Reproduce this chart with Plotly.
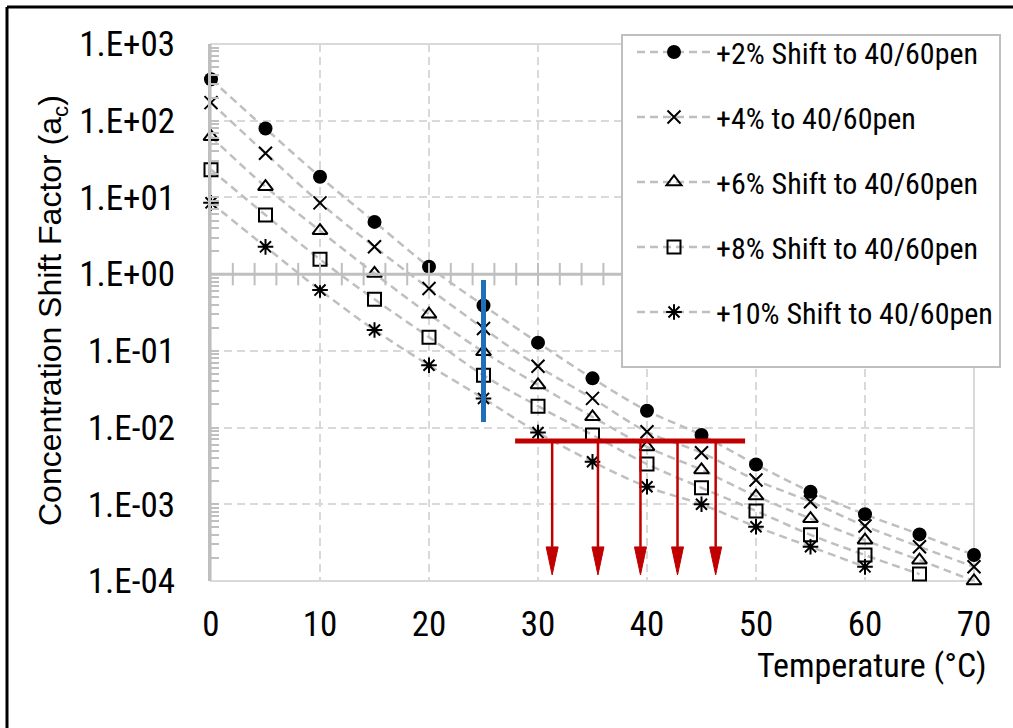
import numpy as np
import plotly.graph_objects as go

# ---------------- data ----------------
temps = [0, 5, 10, 15, 20, 25, 30, 35, 40, 45, 50, 55, 60, 65, 70]
series_names = ["+2% Shift to 40/60pen", "+4% to 40/60pen", "+6% Shift to 40/60pen",
                "+8% Shift to 40/60pen", "+10% Shift to 40/60pen"]
shift_2 = [347, 79, 18.6, 4.8, 1.25, 0.39, 0.128, 0.0438, 0.0166, 0.008, 0.0033, 0.00146, 0.00074, 0.000405, 0.000218]
shift_4 = [172, 37.6, 8.5, 2.27, 0.65, 0.196, 0.063, 0.024, 0.0088, 0.0047, 0.00207, 0.00108, 0.00052, 0.00028, 0.000153]
shift_6 = [62, 13.8, 3.68, 1.02, 0.30, 0.097, 0.036, 0.0138, 0.0056, 0.0028, 0.00128, 0.00065, 0.00034, 0.000187, 0.0001]
shift_8 = [23, 5.9, 1.56, 0.47, 0.151, 0.048, 0.019, 0.008, 0.00334, 0.00164, 0.00082, 0.0004, 0.000218, 0.000123, None]
shift_10 = [8.5, 2.27, 0.62, 0.187, 0.065, 0.024, 0.0086, 0.00358, 0.00169, 0.001, 0.00051, 0.00028, 0.000153, None, None]

y_tickvals = [1e-4, 1e-3, 1e-2, 1e-1, 1e0, 1e1, 1e2, 1e3]
y_ticktext = ["1.E-04", "1.E-03", "1.E-02", "1.E-01", "1.E+00", "1.E+01", "1.E+02", "1.E+03"]
x_tickvals = [0, 10, 20, 30, 40, 50, 60, 70]

# annotation lines (blue reference line, red threshold + arrows)
blue_x = [25, 25]
blue_y = [0.84, 0.0118]
red_x = [27.9, 49.0]
red_level = 0.00667
arrow_x = [31.3, 35.5, 39.4, 42.8, 46.3]
arrow_tip = 0.000120

# ---------------- layout helpers ----------------
W, H = 1013, 728
L, R, T, B = 211, 974, 44, 581  # plot area in pixels
px_per_decade = (B - T) / 7.0
px_per_unit = (R - L) / 70.0


def px_x(p):
    return (p - L) / (R - L)


def px_y(p):
    return (B - p) / (B - T)


FONT = "Roboto Condensed, Liberation Sans Narrow, Arial Narrow, Liberation Sans, sans-serif"
TFONT = "Liberation Sans, Arial, sans-serif"
GRID = "#d9d9d9"
AXIS = "#bfbfbf"
LINE = "#bfbfbf"

fig = go.Figure()

markers = [
    dict(symbol="circle", size=14, color="black"),
    dict(symbol="x-thin", size=13, color="black", line=dict(width=2, color="black")),
    dict(symbol="triangle-up-open", size=13, color="black", line=dict(width=2, color="black")),
    dict(symbol="square-open", size=13, color="black", line=dict(width=2, color="black")),
    dict(symbol="asterisk-open", size=13, color="black", line=dict(width=2, color="black")),
]
all_series = [shift_2, shift_4, shift_6, shift_8, shift_10]

for i, (name, vals, mk) in enumerate(zip(series_names, all_series, markers)):
    fig.add_trace(go.Scatter(
        x=temps, y=vals, name=name, mode="lines+markers",
        line=dict(color=LINE, width=2.5, dash="8px,5px", shape="spline", smoothing=1.0),
        marker=mk, cliponaxis=False, legendgroup=f"g{i}",
    ))

# horizontal axis line crossing at y = 1, with tick marks every 2 units
fig.add_trace(go.Scatter(x=[0, 70], y=[1, 1], mode="lines", line=dict(color=AXIS, width=3),
                         showlegend=False, hoverinfo="skip"))
xt = np.arange(2, 70.1, 2)
fig.add_trace(go.Scatter(x=xt, y=[1] * len(xt), mode="markers",
                         marker=dict(symbol="line-ns", size=16, line=dict(width=2, color=AXIS)),
                         showlegend=False, hoverinfo="skip", cliponaxis=False))

# blue vertical line
fig.add_trace(go.Scatter(x=blue_x, y=blue_y, mode="lines", line=dict(color="#1f70b8", width=5),
                         showlegend=False, hoverinfo="skip"))

# red arrows
head_ratio = 10 ** (28 / px_per_decade)
half_w = 6 / px_per_unit
for ax in arrow_x:
    base = arrow_tip * head_ratio
    fig.add_trace(go.Scatter(x=[ax, ax], y=[red_level, base], mode="lines",
                             line=dict(color="#c00000", width=2.5), showlegend=False, hoverinfo="skip"))
    fig.add_trace(go.Scatter(x=[ax - half_w, ax + half_w, ax, ax - half_w],
                             y=[base, base, arrow_tip, base], mode="lines", fill="toself",
                             fillcolor="#c00000", line=dict(color="#c00000", width=1),
                             showlegend=False, hoverinfo="skip"))

# red horizontal line
fig.add_trace(go.Scatter(x=red_x, y=[red_level, red_level], mode="lines",
                         line=dict(color="#c00000", width=5), showlegend=False, hoverinfo="skip"))

shapes = [
    dict(type="rect", xref="paper", yref="paper", x0=0, x1=1, y0=0, y1=1,
         line=dict(color=GRID, width=2), layer="below"),
    dict(type="rect", xref="paper", yref="paper", x0=px_x(622), x1=px_x(1000), y0=px_y(367), y1=px_y(35),
         line=dict(color=AXIS, width=2), fillcolor="white", layer="above"),
    dict(type="line", xref="paper", yref="paper", x0=px_x(7), x1=px_x(7), y0=px_y(740), y1=px_y(7),
         line=dict(color="black", width=3)),
    dict(type="line", xref="paper", yref="paper", x0=px_x(7), x1=px_x(1030), y0=px_y(7), y1=px_y(7),
         line=dict(color="black", width=3)),
]

annotations = [
    dict(text="Temperature (°C)", xref="paper", yref="paper", x=px_x(989), y=px_y(665),
         xanchor="right", yanchor="middle", showarrow=False,
         font=dict(family=FONT, size=34, color="black")),
    dict(text="Concentration Shift Factor (a<sub>c</sub>)", xref="paper", yref="paper",
         x=px_x(52), y=px_y(311), xanchor="center", yanchor="middle", textangle=-90,
         showarrow=False, font=dict(family=TFONT, size=32, color="black")),
]

fig.update_layout(
    width=W, height=H,
    margin=dict(l=L, r=W - R, t=T, b=H - B, autoexpand=False),
    paper_bgcolor="white", plot_bgcolor="white",
    font=dict(family=FONT, color="black"),
    showlegend=True,
    legend=dict(x=px_x(632), y=px_y(26), xanchor="left", yanchor="top",
                bgcolor="rgba(0,0,0,0)", borderwidth=0,
                font=dict(family=FONT, size=30, color="black"),
                tracegroupgap=23, itemwidth=74),
    shapes=shapes, annotations=annotations,
)

fig.update_xaxes(range=[0, 70], tickvals=x_tickvals, showgrid=True, gridcolor=GRID, gridwidth=1.5,
                 griddash="8px,5px", zeroline=False, showline=False, ticks="",
                 tickfont=dict(family=FONT, size=35, color="black"), ticklabelstandoff=19)
fig.update_yaxes(type="log", range=[-4, 3], tickvals=y_tickvals, ticktext=y_ticktext,
                 showgrid=True, gridcolor=GRID, gridwidth=1.5, griddash="8px,5px", zeroline=False,
                 showline=True, linecolor=AXIS, linewidth=3,
                 ticks="inside", ticklen=8, tickwidth=2, tickcolor=AXIS,
                 minor=dict(ticks="inside", ticklen=8, tickwidth=1.5, tickcolor=AXIS, dtick="D1", showgrid=False),
                 tickfont=dict(family=FONT, size=35, color="black"), ticklabelstandoff=26)

fig.write_html("out.html")
